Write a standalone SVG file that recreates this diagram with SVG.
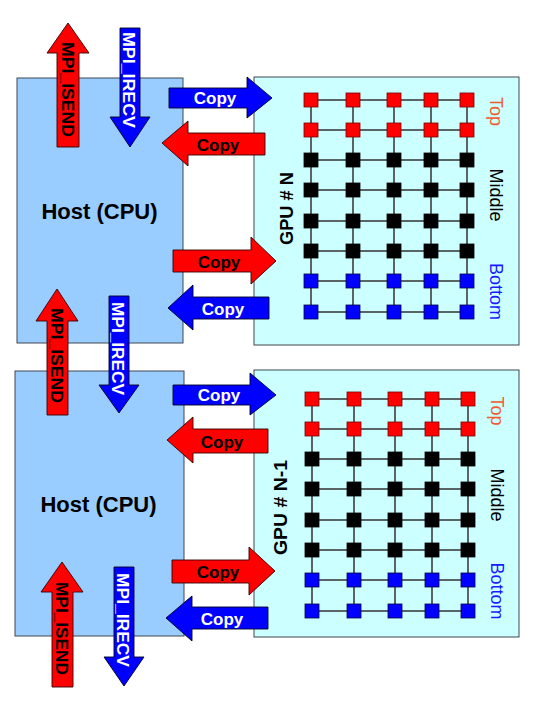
<svg xmlns="http://www.w3.org/2000/svg" width="552" height="708" viewBox="0 0 552 708">
<defs>
<style>
.host{fill:#99ccff;stroke:#404850;stroke-width:1}
.gpu{fill:#ccffff;stroke:#404850;stroke-width:1}
.gl{stroke:#333;stroke-width:1.5;fill:none}
.sr{fill:#ff0000;stroke:#700;stroke-width:0.8}
.sk{fill:#000;stroke:#000;stroke-width:0.8}
.sb{fill:#0000ff;stroke:#004;stroke-width:0.8}
.ar{fill:#ff0000;stroke:#300;stroke-width:0.9}
.ab{fill:#0000ff;stroke:#002;stroke-width:0.9}
.t{font-family:"Liberation Sans",Arial,sans-serif;font-weight:bold}
.tw{fill:#fff}
.tk{fill:#000}
.lab{font-family:"Liberation Sans",Arial,sans-serif;font-size:18px}
</style>
<g id="grid">
<path class="gl" d="M311,100H467M311,130H467M311,160H467M311,190H467M311,221H467M311,251H467M311,281H467M311,312H467M311,100V312M353,100V312M394,100V312M431,100V312M467,100V312"/>
<g class="sr">
<rect x="304" y="93" width="14" height="14"/><rect x="346" y="93" width="14" height="14"/><rect x="387" y="93" width="14" height="14"/><rect x="424" y="93" width="14" height="14"/><rect x="460" y="93" width="14" height="14"/>
<rect x="304" y="123" width="14" height="14"/><rect x="346" y="123" width="14" height="14"/><rect x="387" y="123" width="14" height="14"/><rect x="424" y="123" width="14" height="14"/><rect x="460" y="123" width="14" height="14"/>
</g>
<g class="sk">
<rect x="304" y="153" width="14" height="14"/><rect x="346" y="153" width="14" height="14"/><rect x="387" y="153" width="14" height="14"/><rect x="424" y="153" width="14" height="14"/><rect x="460" y="153" width="14" height="14"/>
<rect x="304" y="183" width="14" height="14"/><rect x="346" y="183" width="14" height="14"/><rect x="387" y="183" width="14" height="14"/><rect x="424" y="183" width="14" height="14"/><rect x="460" y="183" width="14" height="14"/>
<rect x="304" y="214" width="14" height="14"/><rect x="346" y="214" width="14" height="14"/><rect x="387" y="214" width="14" height="14"/><rect x="424" y="214" width="14" height="14"/><rect x="460" y="214" width="14" height="14"/>
<rect x="304" y="244" width="14" height="14"/><rect x="346" y="244" width="14" height="14"/><rect x="387" y="244" width="14" height="14"/><rect x="424" y="244" width="14" height="14"/><rect x="460" y="244" width="14" height="14"/>
</g>
<g class="sb">
<rect x="304" y="274" width="14" height="14"/><rect x="346" y="274" width="14" height="14"/><rect x="387" y="274" width="14" height="14"/><rect x="424" y="274" width="14" height="14"/><rect x="460" y="274" width="14" height="14"/>
<rect x="304" y="305" width="14" height="14"/><rect x="346" y="305" width="14" height="14"/><rect x="387" y="305" width="14" height="14"/><rect x="424" y="305" width="14" height="14"/><rect x="460" y="305" width="14" height="14"/>
</g>
</g>
</defs>

<g id="host1">
<rect class="host" x="17" y="78" width="166" height="265"/>
<text class="t tk" x="99.5" y="219" font-size="22" text-anchor="middle">Host (CPU)</text>
</g>
<g id="host2">
<rect class="host" x="15" y="371" width="169" height="265"/>
<text class="t tk" x="98.5" y="512" font-size="22" text-anchor="middle">Host (CPU)</text>
</g>
<g id="gpu1">
<rect class="gpu" x="254" y="77" width="265" height="268"/>
<use href="#grid"/>
<text class="t tk" font-size="18" text-anchor="middle" textLength="73" lengthAdjust="spacingAndGlyphs" transform="translate(293,208.5) rotate(-90)">GPU # N</text>
<text class="lab" fill="#f05a30" text-anchor="middle" transform="translate(490,111.5) rotate(90)">Top</text>
<text class="lab" fill="#000" text-anchor="middle" transform="translate(490,195) rotate(90)">Middle</text>
<text class="lab" fill="#1a1aff" text-anchor="middle" transform="translate(490,291.5) rotate(90)">Bottom</text>
</g>
<g id="gpu2">
<rect class="gpu" x="254" y="370" width="265" height="267"/>
<use href="#grid" transform="translate(1,299)"/>
<text class="t tk" font-size="18" text-anchor="middle" textLength="95" lengthAdjust="spacingAndGlyphs" transform="translate(287,507.5) rotate(-90)">GPU # N-1</text>
<text class="lab" fill="#f05a30" text-anchor="middle" transform="translate(491,411) rotate(90)">Top</text>
<text class="lab" fill="#000" text-anchor="middle" transform="translate(491,495) rotate(90)">Middle</text>
<text class="lab" fill="#1a1aff" text-anchor="middle" transform="translate(491,591) rotate(90)">Bottom</text>
</g>

<g id="connectors">
<polygon class="ar" points="57,147 57,53 47,53 68,23 89,53 79,53 79,147"/>
<text class="t tk" font-size="17" text-anchor="middle" textLength="95" lengthAdjust="spacingAndGlyphs" transform="translate(62,89.5) rotate(90)">MPI_ISEND</text>
<polygon class="ab" points="120,28 140,28 140,117 150,117 130,147 110,117 120,117"/>
<text class="t tw" font-size="17" text-anchor="middle" textLength="96" lengthAdjust="spacingAndGlyphs" transform="translate(123,80) rotate(90)">MPI_IRECV</text>
<polygon class="ar" points="47,415 47,321 36,321 57,289 78,321 68,321 68,415"/>
<text class="t tk" font-size="17" text-anchor="middle" textLength="95" lengthAdjust="spacingAndGlyphs" transform="translate(51,355.5) rotate(90)">MPI_ISEND</text>
<polygon class="ab" points="109,296 129,296 129,385 139,385 119,413 99,385 109,385"/>
<text class="t tw" font-size="17" text-anchor="middle" textLength="93" lengthAdjust="spacingAndGlyphs" transform="translate(112,348.5) rotate(90)">MPI_IRECV</text>
<polygon class="ar" points="52,687 52,592 41,592 62,562 83,592 73,592 73,687"/>
<text class="t tk" font-size="17" text-anchor="middle" textLength="93" lengthAdjust="spacingAndGlyphs" transform="translate(56,628.5) rotate(90)">MPI_ISEND</text>
<polygon class="ab" points="114,567 134,567 134,657 144,657 124,686 104,657 114,657"/>
<text class="t tw" font-size="17" text-anchor="middle" textLength="94" lengthAdjust="spacingAndGlyphs" transform="translate(117,620) rotate(90)">MPI_IRECV</text>

<polygon class="ab" points="169,88 247,88 247,77 272,98 247,118 247,108 169,108"/>
<text class="t tw" x="215" y="104" font-size="17" text-anchor="middle">Copy</text>
<polygon class="ar" points="265,133 188,133 188,121 162,143 188,166 188,155 265,155"/>
<text class="t tk" x="218" y="151" font-size="17" text-anchor="middle">Copy</text>
<polygon class="ar" points="173,250 251,250 251,237 276,261 251,284 251,272 173,272"/>
<text class="t tk" x="219" y="268" font-size="17" text-anchor="middle">Copy</text>
<polygon class="ab" points="269,297 193,297 193,285 168,308 193,330 193,319 269,319"/>
<text class="t tw" x="223" y="315" font-size="17" text-anchor="middle">Copy</text>

<polygon class="ab" points="173,385 250,385 250,373 276,395 250,415 250,405 173,405"/>
<text class="t tw" x="219" y="401" font-size="17" text-anchor="middle">Copy</text>
<polygon class="ar" points="268,429 193,429 193,417 167,440 193,463 193,453 268,453"/>
<text class="t tk" x="222" y="448" font-size="17" text-anchor="middle">Copy</text>
<polygon class="ar" points="172,560 249,560 249,547 275,571 249,595 249,583 172,583"/>
<text class="t tk" x="218" y="578" font-size="17" text-anchor="middle">Copy</text>
<polygon class="ab" points="268,607 192,607 192,596 166,618 192,641 192,629 268,629"/>
<text class="t tw" x="222" y="625" font-size="17" text-anchor="middle">Copy</text>
</g>
</svg>
